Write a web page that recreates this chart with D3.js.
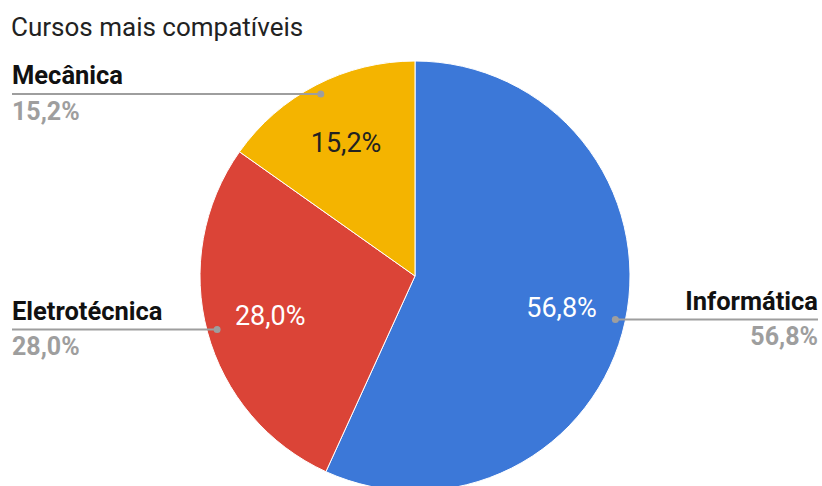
<!DOCTYPE html>
<html>
<head>
<meta charset="utf-8">
<script src="https://cdn.jsdelivr.net/npm/d3@7"></script>
<style>
  body { margin: 0; background: #fff; }
  svg { display: block; font-family: Roboto, "Noto Sans", sans-serif; }
</style>
</head>
<body>
<svg></svg>
<script>
var categories = ["Informática", "Eletrotécnica", "Mecânica"];
var values = [56.8, 28.0, 15.2];
var pctLabels = ["56,8%", "28,0%", "15,2%"];
var colors = ["#3c78d8", "#db4437", "#f4b400"];

var svgWidth = 822, svgHeight = 486;
var svg = d3.select("svg")
    .attr("width", svgWidth)
    .attr("height", svgHeight);

var cx = 415, cy = 276, radius = 215;

// title
svg.append("text")
    .attr("x", 11)
    .attr("y", 36)
    .style("font-size", "26px")
    .style("fill", "#222")
    .text("Cursos mais compatíveis");

var data = categories.map(function (c, i) {
    return { name: c, value: values[i], pct: pctLabels[i], color: colors[i] };
});

var pie = d3.pie().sort(null).value(function (d) { return d.value; });
var arcs = pie(data);

var arc = d3.arc().innerRadius(0).outerRadius(radius);
var labelArc = d3.arc().innerRadius(150).outerRadius(150);
var dotArc = d3.arc().innerRadius(205).outerRadius(205);

var g = svg.append("g")
    .attr("transform", "translate(" + cx + "," + cy + ")");

g.selectAll("path.slice")
    .data(arcs)
    .enter()
    .append("path")
    .attr("class", "slice")
    .attr("d", arc)
    .style("fill", function (d) { return d.data.color; })
    .style("stroke", "#fff")
    .style("stroke-width", 1);

// inner percentage labels
g.selectAll("text.inner")
    .data(arcs)
    .enter()
    .append("text")
    .attr("class", "inner")
    .attr("x", function (d) { return labelArc.centroid(d)[0]; })
    .attr("y", function (d) { return labelArc.centroid(d)[1] + 9.5; })
    .attr("text-anchor", "middle")
    .style("font-size", "27px")
    .style("fill", function (d) { return d.data.name === "Mecânica" ? "#222" : "#fff"; })
    .text(function (d) { return d.data.pct; });

// outside leader labels
arcs.forEach(function (d) {
    var p = dotArc.centroid(d);
    var px = cx + p[0], py = cy + p[1];
    var left = p[0] < 0;
    var endX = left ? 12 : 818;

    svg.append("line")
        .attr("x1", px).attr("y1", py)
        .attr("x2", endX).attr("y2", py)
        .style("stroke", "#9e9e9e")
        .style("stroke-width", 2);

    svg.append("circle")
        .attr("cx", px).attr("cy", py)
        .attr("r", 3.5)
        .style("fill", "#9e9e9e");

    svg.append("text")
        .attr("x", endX)
        .attr("y", py - 9.5)
        .attr("text-anchor", left ? "start" : "end")
        .style("font-size", "25.5px")
        .style("font-weight", "bold")
        .style("fill", "#111")
        .text(d.data.name);

    svg.append("text")
        .attr("x", endX)
        .attr("y", py + 26)
        .attr("text-anchor", left ? "start" : "end")
        .style("font-size", "25px")
        .style("font-weight", "bold")
        .style("fill", "#9e9e9e")
        .text(d.data.pct);
});
</script>
</body>
</html>
